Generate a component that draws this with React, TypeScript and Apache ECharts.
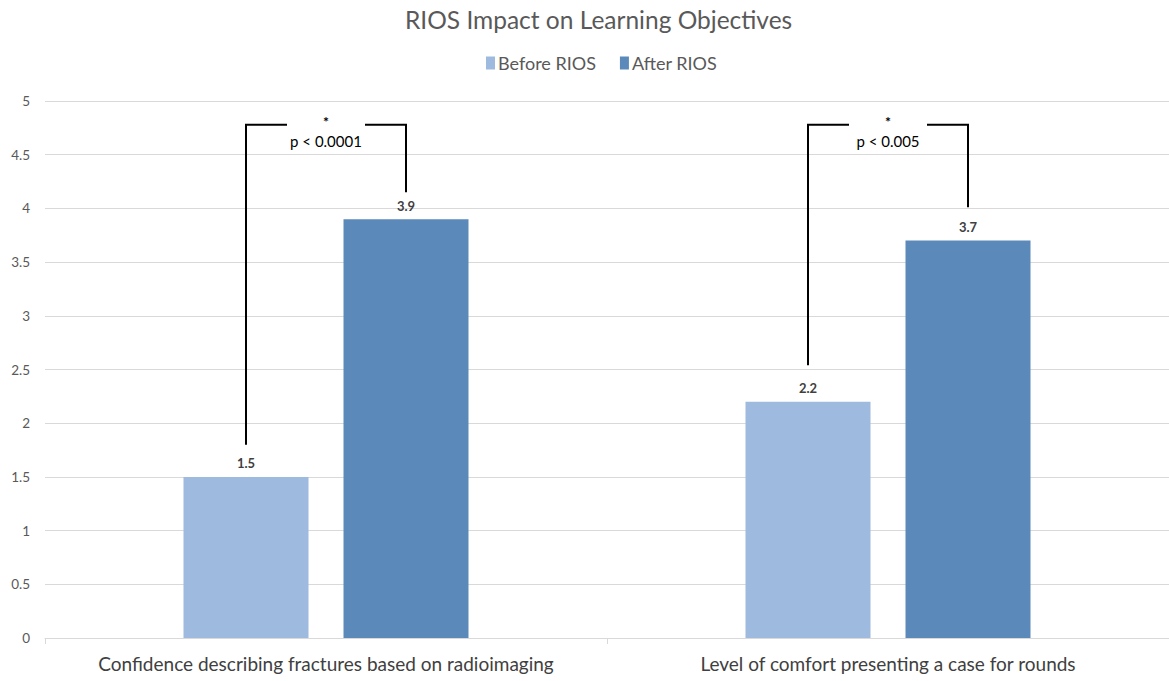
import React, { useEffect, useRef } from "react";
import * as echarts from "echarts";

const categories = [
  "Confidence describing fractures based on radioimaging",
  "Level of comfort presenting a case for rounds",
];
const beforeValues = [1.5, 2.2];
const afterValues = [3.9, 3.7];
const seriesNames = ["Before RIOS", "After RIOS"];
const pLabels = ["p < 0.0001", "p < 0.005"];
// bracket: [top value, left leg bottom value, right leg bottom value]
const bracketTop = [4.78, 4.78];
const bracketLeftBottom = [1.8, 2.54];
const bracketRightBottom = [4.15, 4.01];

const BAR_W = 125;
const BAR_GAP = 35;
const FONT = "Lato, 'Open Sans', sans-serif";

export default function App() {
  const ref = useRef<HTMLDivElement>(null);
  useEffect(() => {
    if (!ref.current) return;
    const chart = echarts.init(ref.current, undefined, { renderer: "svg" });
    const labelCfg = {
      show: true,
      position: "top" as const,
      distance: 7,
      fontWeight: "bold" as const,
      fontSize: 13,
      color: "#404040",
      fontFamily: FONT,
    };
    chart.setOption({
      animation: false,
      backgroundColor: "#ffffff",
      title: {
        text: "RIOS Impact on Learning Objectives",
        left: 400,
        top: 2,
        textStyle: { fontFamily: FONT, fontSize: 24.5, fontWeight: "normal", color: "#595959" },
      },
      legend: {
        top: 49,
        left: 481,
        itemWidth: 9,
        itemHeight: 13,
        itemGap: 24,
        icon: "rect",
        textStyle: { fontFamily: FONT, fontSize: 18, color: "#595959", padding: [0, 0, 0, -2] },
        data: seriesNames,
      },
      grid: { left: 45, right: 0, top: 101, bottom: 43, containLabel: false },
      xAxis: {
        type: "category",
        data: categories,
        axisLine: { lineStyle: { color: "#d9d9d9" } },
        axisTick: { show: true, length: 6, lineStyle: { color: "#d9d9d9" } },
        axisLabel: { interval: 0, fontFamily: FONT, fontSize: 19, color: "#404040", margin: 16 },
      },
      yAxis: {
        type: "value",
        min: 0,
        max: 5,
        interval: 0.5,
        axisLine: { show: false },
        axisTick: { show: false },
        splitLine: { lineStyle: { color: "#d9d9d9", width: 1 } },
        axisLabel: { fontFamily: FONT, fontSize: 13.5, color: "#595959", margin: 15 },
      },
      series: [
        {
          name: seriesNames[0],
          type: "bar",
          data: beforeValues,
          barWidth: BAR_W,
          barGap: (BAR_GAP / BAR_W) * 100 + "%",
          itemStyle: { color: "#9fbadf" },
          label: labelCfg,
        },
        {
          name: seriesNames[1],
          type: "bar",
          data: afterValues,
          barWidth: BAR_W,
          itemStyle: { color: "#5b89ba" },
          label: labelCfg,
        },
      ],
    });

    const graphics: any[] = [];
    const off = (BAR_W + BAR_GAP) / 2;
    categories.forEach((_, i) => {
      const c = chart.convertToPixel({ xAxisIndex: 0, yAxisIndex: 0 }, [i, bracketTop[i]]) as number[];
      const lb = chart.convertToPixel({ xAxisIndex: 0, yAxisIndex: 0 }, [i, bracketLeftBottom[i]]) as number[];
      const rb = chart.convertToPixel({ xAxisIndex: 0, yAxisIndex: 0 }, [i, bracketRightBottom[i]]) as number[];
      const cx = c[0];
      const top = c[1];
      const xl = cx - off;
      const xr = cx + off;
      const ls = { stroke: "#000", lineWidth: 2 };
      graphics.push(
        { type: "polyline", shape: { points: [[xl, lb[1]], [xl, top], [cx - 39, top]] }, style: { ...ls, fill: "none" } },
        { type: "polyline", shape: { points: [[cx + 39, top], [xr, top], [xr, rb[1]]] }, style: { ...ls, fill: "none" } },
        {
          type: "text",
          x: cx,
          y: top - 3,
          style: { text: "*", fontFamily: FONT, fontSize: 14, fontWeight: "bold", fill: "#000", align: "center", verticalAlign: "middle" },
        },
        {
          type: "text",
          x: cx,
          y: top + 16,
          style: { text: pLabels[i], fontFamily: FONT, fontSize: 15, fill: "#000", align: "center", verticalAlign: "middle" },
        }
      );
    });
    chart.setOption({ graphic: graphics });

    return () => chart.dispose();
  }, []);
  return (
    <div
      ref={ref}
      style={{ position: "absolute", left: 0, top: 0, width: 1169, height: 681 }}
    />
  );
}
